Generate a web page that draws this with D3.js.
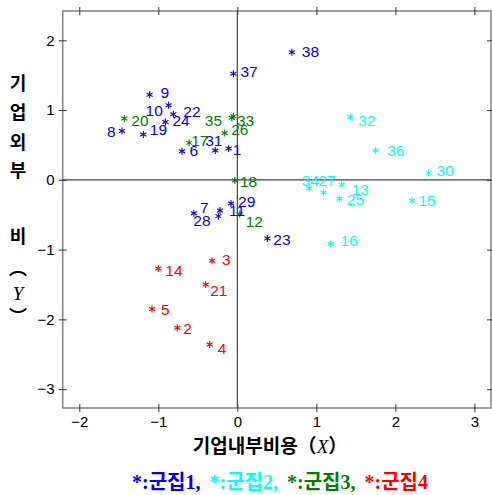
<!DOCTYPE html>
<html>
<head>
<meta charset="utf-8">
<script src="https://cdn.jsdelivr.net/npm/d3@7"></script>
<style>
  body { margin: 0; background: #fff; }
  svg { display: block; }
  .tick text { font-family: "Liberation Sans", Arial, sans-serif; font-size: 15px; fill: #000; }
  .kr { font-family: "Noto Sans CJK KR", sans-serif; font-weight: bold; }
</style>
</head>
<body>
<div id="chart"></div>
<script>
// numéros des entreprises, coordonnées (X, Y) et groupe (군집)
var ids = [1,2,3,4,5,6,7,8,9,10,11,12,13,14,15,16,17,18,19,20,21,22,23,24,25,26,27,28,29,30,31,32,33,34,35,36,37,38];
var xs = [-0.11,-0.76,-0.32,-0.35,-1.08,-0.70,-0.55,-1.46,-1.11,-0.87,-0.22,0.03,1.32,-1.00,2.21,1.18,-0.61,-0.03,-1.19,-1.43,
          -0.40,-0.81,0.38,-0.91,1.29,-0.16,1.09,-0.24,-0.08,2.42,-0.28,1.43,-0.05,0.91,-0.07,1.75,-0.05,0.69];
var ys = [0.45,-2.12,-1.16,-2.36,-1.85,0.41,-0.48,0.70,1.22,1.07,-0.44,-0.49,-0.07,-1.27,-0.30,-0.92,0.53,-0.01,0.65,0.88,
          -1.50,0.94,-0.84,0.83,-0.27,0.67,-0.18,-0.52,-0.34,0.10,0.42,0.90,0.91,-0.12,0.89,0.42,1.52,1.83];
var cluster = [1,4,4,4,4,1,1,1,1,1,1,3,2,4,2,2,3,3,1,3,4,1,1,1,2,3,2,1,1,2,1,2,3,2,3,2,1,1];

var xTicks = [-2,-1,0,1,2,3];
var yTicks = [-3,-2,-1,0,1,2];
var clusterNames = ["군집1","군집2","군집3","군집4"];
var clusterColors = ["#0000ff","#00ffff","#008000","#ff0000"];

// décalage des étiquettes (en px) pour éviter les chevauchements
var labelNudge = {
  1:[4,6.5], 2:[6,6], 3:[10,4.5], 4:[8,9.5], 5:[9,6], 6:[7.5,4.5], 7:[6,-0.5], 8:[-15,5.5], 9:[11,3], 10:[-23,11],
  11:[9,5.5], 12:[6,13], 13:[10,10.5], 14:[7,8], 15:[6.5,5], 16:[10,1.5], 17:[2,3], 18:[5,6.5], 19:[6.5,1], 20:[7,8],
  21:[4.5,11], 22:[10,3], 23:[6,7], 24:[7,4.5], 25:[7.5,6.5], 26:[6.5,2], 27:[-5,-6.5], 28:[-25,10], 29:[7,3], 30:[8,3],
  31:[-10,-5], 32:[8,9], 33:[3.5,9.5], 34:[-7.5,-2.5], 35:[-27,8.5], 36:[11.5,5.5], 37:[7,3], 38:[10,4.5]
};

var width = 492, height = 495;
var plotL = 62.7, plotR = 491, plotT = 11, plotB = 408;

var svg = d3.select("#chart").append("svg")
    .attr("width", width)
    .attr("height", height);

var x = d3.scaleLinear().domain([-2.21, 3.21]).range([plotL, plotR]);
var y = d3.scaleLinear().domain([-3.27, 2.42]).range([plotB, plotT]);

// cadre
svg.append("rect")
    .attr("x", plotL).attr("y", plotT)
    .attr("width", plotR - plotL).attr("height", plotB - plotT)
    .attr("fill", "none").attr("stroke", "#808080").attr("stroke-width", 1.5);

// axes : graduations qui traversent le cadre
function drawAxis(axisFn, tr, ticks, labels) {
  var out = svg.append("g").attr("transform", tr)
      .call(axisFn.tickValues(ticks).tickSize(4).tickPadding(4)
        .tickFormat(labels ? function(d){ return d < 0 ? "\u2212" + Math.abs(d) : d; } : ""));
  out.select(".domain").remove();
  out.selectAll(".tick line").attr("stroke", "#333");
  var inn = svg.append("g").attr("transform", tr)
      .call(axisFn.tickValues(ticks).tickSize(-4).tickFormat(""));
  inn.select(".domain").remove();
  inn.selectAll(".tick line").attr("stroke", "#333");
  return out;
}
drawAxis(d3.axisBottom(x), "translate(0," + plotB + ")", xTicks, true);
drawAxis(d3.axisTop(x), "translate(0," + plotT + ")", xTicks, false);
drawAxis(d3.axisLeft(y), "translate(" + plotL + ",0)", yTicks, true);
drawAxis(d3.axisRight(y), "translate(" + plotR + ",0)", yTicks, false);

// lignes X = 0 et Y = 0
svg.append("line")
    .attr("x1", x(0)).attr("x2", x(0)).attr("y1", plotT).attr("y2", plotB)
    .attr("stroke", "#444").attr("stroke-width", 1.2);
svg.append("line")
    .attr("x1", plotL).attr("x2", plotR).attr("y1", y(0)).attr("y2", y(0))
    .attr("stroke", "#444").attr("stroke-width", 1.2);

// points (astérisques) et étiquettes
var pts = ids.map(function(id, i) {
  return { id: id, x: xs[i], y: ys[i], c: cluster[i] };
});
var r = 3.5, a = r * Math.cos(Math.PI / 6), b = r * Math.sin(Math.PI / 6);
var star = "M0," + (-r) + "V" + r + "M" + (-a) + "," + (-b) + "L" + a + "," + b + "M" + (-a) + "," + b + "L" + a + "," + (-b);

var g = svg.append("g");
g.selectAll("path.pt")
    .data(pts)
  .enter().append("path")
    .attr("class", "pt")
    .attr("transform", function(d){ return "translate(" + x(d.x) + "," + y(d.y) + ")"; })
    .attr("d", star)
    .attr("fill", "none")
    .attr("stroke", function(d){ return clusterColors[d.c - 1]; })
    .attr("stroke-width", 1.1);

g.selectAll("text.lab")
    .data(pts)
  .enter().append("text")
    .attr("class", "lab")
    .attr("x", function(d){ return x(d.x) + labelNudge[d.id][0]; })
    .attr("y", function(d){ return y(d.y) + labelNudge[d.id][1]; })
    .attr("fill", function(d){ return clusterColors[d.c - 1]; })
    .style("font-family", "'Liberation Sans', Arial, sans-serif")
    .style("font-size", "15.5px")
    .text(function(d){ return d.id; });

// titre de l'axe X
var xt = svg.append("text")
    .attr("class", "kr")
    .attr("x", 270).attr("y", 453)
    .attr("text-anchor", "middle")
    .style("font-size", "19px");
xt.append("tspan").text("기업내부비용（");
xt.append("tspan").style("font-family", "'Liberation Serif', serif").style("font-style", "italic").style("font-weight", "normal").text("X");
xt.append("tspan").text("）");

// titre de l'axe Y, caractères empilés
var yChars = [["기",83],["업",112],["외",142],["부",170],["비",236]];
svg.selectAll("text.ych")
    .data(yChars)
  .enter().append("text")
    .attr("class", "kr ych")
    .attr("x", 18).attr("y", function(d){ return d[1] + 7; })
    .attr("text-anchor", "middle")
    .style("font-size", "18px")
    .text(function(d){ return d[0]; });
svg.append("text").attr("class", "kr")
    .attr("x", 18).attr("y", 275).attr("text-anchor", "middle")
    .style("font-size", "18px").text("︵");
svg.append("text")
    .attr("x", 18).attr("y", 300).attr("text-anchor", "middle")
    .style("font-family", "'Liberation Serif', serif").style("font-style", "italic")
    .style("font-size", "19px").text("Y");
svg.append("text").attr("class", "kr")
    .attr("x", 18).attr("y", 323).attr("text-anchor", "middle")
    .style("font-size", "18px").text("︶");

// légende
var lg = svg.append("text")
    .attr("x", 280).attr("y", 489)
    .attr("text-anchor", "middle")
    .style("font-family", "'Liberation Serif', 'Noto Sans CJK KR', serif")
    .style("font-weight", "bold")
    .style("font-size", "20px");
clusterNames.forEach(function(n, i) {
  lg.append("tspan")
    .attr("fill", clusterColors[i])
    .attr("dx", i > 0 ? 9 : 0)
    .text("*:" + n + (i < clusterNames.length - 1 ? "," : ""));
});
</script>
</body>
</html>
